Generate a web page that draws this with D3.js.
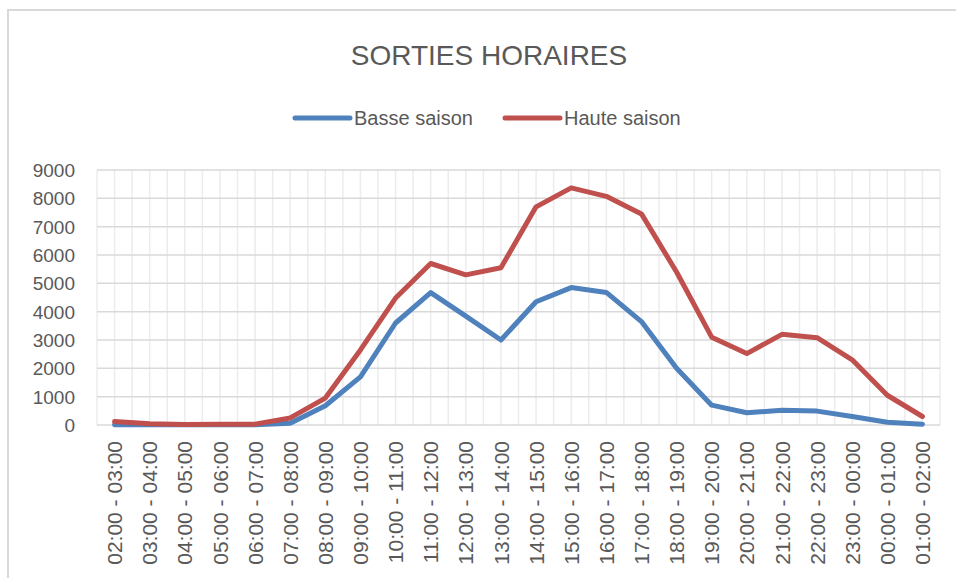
<!DOCTYPE html>
<html>
<head>
<meta charset="utf-8">
<script src="https://cdn.jsdelivr.net/npm/d3@7"></script>
<style>
  body { margin: 0; background: #fff; }
  text { font-family: "Liberation Sans", Arial, sans-serif; fill: #595959; }
</style>
</head>
<body>
<svg id="chart" width="956" height="578"></svg>
<script>
// hourly slots
var hours = ["02:00 - 03:00", "03:00 - 04:00", "04:00 - 05:00", "05:00 - 06:00",
  "06:00 - 07:00", "07:00 - 08:00", "08:00 - 09:00", "09:00 - 10:00",
  "10:00 - 11:00", "11:00 - 12:00", "12:00 - 13:00", "13:00 - 14:00",
  "14:00 - 15:00", "15:00 - 16:00", "16:00 - 17:00", "17:00 - 18:00",
  "18:00 - 19:00", "19:00 - 20:00", "20:00 - 21:00", "21:00 - 22:00",
  "22:00 - 23:00", "23:00 - 00:00", "00:00 - 01:00", "01:00 - 02:00"];

var basseSaison = [10, 5, 5, 5, 5, 60, 680, 1700, 3600, 4670, 3840, 3000,
  4350, 4850, 4680, 3650, 2000, 700, 430, 520, 490, 300, 100, 30];

var hauteSaison = [120, 40, 20, 30, 30, 250, 950, 2650, 4480, 5700, 5300, 5550,
  7700, 8370, 8070, 7450, 5400, 3100, 2520, 3200, 3080, 2300, 1050, 300];

var yTicks = [0, 1000, 2000, 3000, 4000, 5000, 6000, 7000, 8000, 9000];

var series = [
  {name: "Basse saison", values: basseSaison, color: "#4f81bd"},
  {name: "Haute saison", values: hauteSaison, color: "#c0504d"}
];

var svg = d3.select("#chart");

// outer chart border
svg.append("rect")
  .attr("x", 8).attr("y", 10)
  .attr("width", 960).attr("height", 580)
  .attr("fill", "none")
  .attr("stroke", "#d9d9d9")
  .attr("stroke-width", 2);

var plotLeft = 97, plotRight = 940, plotTop = 170, plotBottom = 425;

var x = d3.scaleBand().domain(hours).range([plotLeft, plotRight]);
var y = d3.scaleLinear().domain([0, 9000]).range([plotBottom, plotTop]);

// vertical grid: category edges and centers
var vx = [];
hours.forEach(function(h) {
  vx.push(x(h));
  vx.push(x(h) + x.bandwidth() / 2);
});
vx.push(plotRight);

svg.append("g").selectAll("line")
  .data(vx)
  .enter().append("line")
  .attr("x1", function(d) { return d; })
  .attr("x2", function(d) { return d; })
  .attr("y1", plotTop).attr("y2", plotBottom)
  .attr("stroke", "#ececec")
  .attr("stroke-width", 1.5);

// horizontal grid
svg.append("g").selectAll("line")
  .data(yTicks)
  .enter().append("line")
  .attr("x1", plotLeft).attr("x2", plotRight)
  .attr("y1", function(d) { return y(d); })
  .attr("y2", function(d) { return y(d); })
  .attr("stroke", "#d9d9d9")
  .attr("stroke-width", 1.5);

// y axis labels
var yAxis = svg.append("g")
  .attr("transform", "translate(" + (plotLeft - 22) + ",0)")
  .call(d3.axisLeft(y).tickValues(yTicks).tickSize(0).tickPadding(0).tickFormat(d3.format("d")));
yAxis.select(".domain").remove();
yAxis.selectAll("text")
  .attr("font-size", 19)
  .attr("dy", "0.35em")
  .style("font-family", "'Liberation Sans', Arial, sans-serif")
  .attr("fill", "#595959");

// x axis labels, rotated
var xAxis = svg.append("g")
  .attr("transform", "translate(0," + plotBottom + ")")
  .call(d3.axisBottom(x).tickSize(0));
xAxis.select(".domain").remove();
xAxis.selectAll("text")
  .attr("font-size", 21)
  .attr("transform", "rotate(-90)")
  .attr("text-anchor", "end")
  .attr("x", -16)
  .attr("y", 0)
  .attr("dy", "0.36em")
  .style("font-family", "'Liberation Sans', Arial, sans-serif")
  .attr("fill", "#595959");

// series lines
var line = d3.line()
  .x(function(d, i) { return x(hours[i]) + x.bandwidth() / 2; })
  .y(function(d) { return y(d); });

svg.append("g").selectAll("path")
  .data(series)
  .enter().append("path")
  .attr("d", function(s) { return line(s.values); })
  .attr("fill", "none")
  .attr("stroke", function(s) { return s.color; })
  .attr("stroke-width", 5)
  .attr("stroke-linejoin", "round")
  .attr("stroke-linecap", "round");

// title
svg.append("text")
  .attr("x", 489).attr("y", 65)
  .attr("text-anchor", "middle")
  .attr("font-size", 28)
  .text("SORTIES HORAIRES");

// legend
var legendPos = [295, 505];
var legend = svg.append("g").selectAll("g")
  .data(series)
  .enter().append("g")
  .attr("transform", function(d, i) { return "translate(" + legendPos[i] + ",118)"; });

legend.append("line")
  .attr("x1", 0).attr("x2", 55)
  .attr("stroke", function(d) { return d.color; })
  .attr("stroke-width", 5)
  .attr("stroke-linecap", "round");

legend.append("text")
  .attr("x", 59).attr("y", 7)
  .attr("font-size", 20)
  .text(function(d) { return d.name; });
</script>
</body>
</html>
